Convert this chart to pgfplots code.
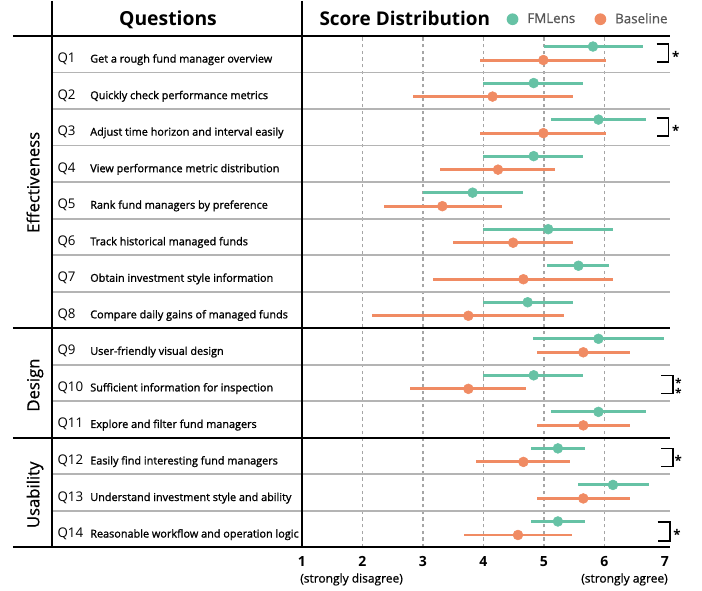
\documentclass[border=0pt]{standalone}
\usepackage{pgfplots}
\pgfplotsset{compat=1.18}
\usepackage{pgfplotstable}
\usepackage{fontspec}
\setmainfont{Open Sans}
\newfontfamily\descfont[BoldFont={Open Sans}, BoldFeatures={FakeBold=1.3}]{Open Sans}
\newfontfamily\medfont[BoldFont={Open Sans}, BoldFeatures={FakeBold=0.7}]{Open Sans}
\definecolor{fmgreen}{RGB}{102,194,165}
\definecolor{fmorange}{RGB}{240,139,99}
\definecolor{rowgray}{RGB}{180,180,180}
\definecolor{gridgray}{RGB}{165,165,165}
\definecolor{leggray}{RGB}{85,85,85}

\pgfplotstableread{
q yg mg lg hg yo mo lo ho
1 13.71 5.81 5.00 6.64 13.34 4.99 3.95 6.02
2 12.71 4.83 3.99 5.65 12.34 4.15 2.83 5.48
3 11.71 5.90 5.11 6.68 11.34 4.99 3.95 6.02
4 10.71 4.83 3.99 5.65 10.34 4.24 3.28 5.19
5 9.71 3.82 3.00 4.66 9.34 3.32 2.35 4.30
6 8.71 5.07 3.99 6.14 8.34 4.49 3.50 5.48
7 7.71 5.57 5.05 6.08 7.34 4.66 3.17 6.14
8 6.71 4.73 3.99 5.48 6.34 3.75 2.15 5.33
9 5.71 5.90 4.82 6.98 5.34 5.65 4.88 6.42
10 4.71 4.83 3.99 5.65 4.34 3.75 2.79 4.70
11 3.71 5.90 5.11 6.68 3.34 5.65 4.88 6.42
12 2.71 5.23 4.79 5.68 2.34 4.66 3.88 5.43
13 1.71 6.14 5.57 6.73 1.34 5.65 4.88 6.42
14 0.71 5.23 4.79 5.68 0.34 4.57 3.68 5.47
}\data

\newcommand{\qlab}[3]{%
  \node[anchor=base west, inner sep=0pt, font=\fontsize{10}{12}\selectfont] at (axis cs:-3.045,#1) {#2};
  \node[anchor=base west, inner sep=0pt, font=\descfont\bfseries\fontsize{8.15}{9.5}\selectfont] at (axis cs:-2.504,#1) {#3};
}

\begin{document}
\begin{tikzpicture}
\begin{axis}[
  scale only axis, width=276pt, height=383.6pt,
  xmin=1, xmax=7.083, ymin=0, ymax=14,
  clip=false,
  axis line style={draw=none},
  ytick=\empty,
  xtick={1,...,7},
  major tick length=0pt,
  /pgf/number format/assume math mode=true,
  xticklabel style={font=\bfseries\fontsize{10.5}{12}\selectfont, inner sep=0pt, anchor=base, yshift=-14.5pt},
  legend style={at={(axis cs:4.379,14.457)}, anchor=west, draw=none, fill=none,
    legend columns=2, font=\medfont\bfseries\fontsize{10}{12}\selectfont, text=leggray,
    inner sep=0pt, /tikz/every even column/.append style={column sep=12.5pt}},
  legend image code/.code={\fill[#1] (4.4pt,0pt) circle (4.4pt); \path (13.5pt,0pt);},
]
% bounding box of the whole picture
\path (axis cs:-3.992,14.958) rectangle (axis cs:7.612,-1.190);
% dashed grid
\pgfplotsinvokeforeach{2,3,4,5,6}{
  \draw[gridgray, line width=0.9pt, dash pattern=on 2.6pt off 2.4pt] (axis cs:#1,0) -- (axis cs:#1,14);
}
% gray row separators
\pgfplotsinvokeforeach{13,12,11,10,9,8,7,5,4,2,1}{
  \draw[rowgray, line width=1.4pt] (axis cs:-3.137,#1) -- (axis cs:7.083,#1);
}

\addlegendimage{fill=fmgreen, draw=none}
\addlegendentry{FMLens}
\addlegendimage{fill=fmorange, draw=none}
\addlegendentry{Baseline}

\addplot[forget plot, only marks, mark=*, mark size=3.7pt, color=fmgreen,
  error bars/.cd, x dir=both, x explicit, error mark=none,
  error bar style={line width=2.2pt, fmgreen}]
  table[x=mg, y=yg, x error plus expr=\thisrow{hg}-\thisrow{mg}, x error minus expr=\thisrow{mg}-\thisrow{lg}] {\data};
\addplot[forget plot, only marks, mark=*, mark size=3.7pt, color=fmorange,
  error bars/.cd, x dir=both, x explicit, error mark=none,
  error bar style={line width=2.2pt, fmorange}]
  table[x=mo, y=yo, x error plus expr=\thisrow{ho}-\thisrow{mo}, x error minus expr=\thisrow{mo}-\thisrow{lo}] {\data};

% black lines
\pgfplotsinvokeforeach{14,6,3,0}{
  \draw[black, line width=1.4pt] (axis cs:-3.777,#1) -- (axis cs:7.083,#1);
}
\draw[black, line width=1.4pt] (axis cs:-3.137,14.958) -- (axis cs:-3.137,0);
\draw[black, line width=1.4pt] (axis cs:1,14.958) -- (axis cs:1,0);

% headers
\node[anchor=base, inner sep=0pt, font=\bfseries\fontsize{14.5}{17}\selectfont] at (axis cs:-1.215,14.274) {Questions};
\node[anchor=base west, inner sep=0pt, font=\bfseries\fontsize{14.2}{17}\selectfont] at (axis cs:1.286,14.274) {Score Distribution};

% group labels
\node[rotate=90, anchor=base, inner sep=0pt, font=\medfont\bfseries\fontsize{12.5}{15}\selectfont] at (axis cs:-3.342,9.99) {Effectiveness};
\node[rotate=90, anchor=base, inner sep=0pt, font=\medfont\bfseries\fontsize{12.5}{15}\selectfont] at (axis cs:-3.342,4.443) {Design};
\node[rotate=90, anchor=base, inner sep=0pt, font=\medfont\bfseries\fontsize{12.5}{15}\selectfont] at (axis cs:-3.342,1.44) {Usability};

% question labels
\qlab{13.27}{Q1}{Get a rough fund manager overview}
\qlab{12.27}{Q2}{Quickly check performance metrics}
\qlab{11.27}{Q3}{Adjust time horizon and interval easily}
\qlab{10.27}{Q4}{View performance metric distribution}
\qlab{9.27}{Q5}{Rank fund managers by preference}
\qlab{8.27}{Q6}{Track historical managed funds}
\qlab{7.27}{Q7}{Obtain investment style information}
\qlab{6.27}{Q8}{Compare daily gains of managed funds}
\qlab{5.27}{Q9}{User-friendly visual design}
\qlab{4.27}{Q10}{Sufficient information for inspection}
\qlab{3.27}{Q11}{Explore and filter fund managers}
\qlab{2.27}{Q12}{Easily find interesting fund managers}
\qlab{1.27}{Q13}{Understand investment style and ability}
\qlab{0.27}{Q14}{Reasonable workflow and operation logic}

% significance brackets
\draw[black, line width=1.2pt] (axis cs:6.86,13.78) -- (axis cs:7.06,13.78) -- (axis cs:7.06,13.29) -- (axis cs:6.86,13.29);
\node[anchor=base, inner sep=0pt, yshift=-6pt, font=\bfseries\fontsize{10}{12}\selectfont] at (axis cs:7.18,13.52) {*};
\draw[black, line width=1.2pt] (axis cs:6.86,11.75) -- (axis cs:7.06,11.75) -- (axis cs:7.06,11.26) -- (axis cs:6.86,11.26);
\node[anchor=base, inner sep=0pt, yshift=-6pt, font=\bfseries\fontsize{10}{12}\selectfont] at (axis cs:7.18,11.49) {*};
\draw[black, line width=1.2pt] (axis cs:6.94,4.71) -- (axis cs:7.13,4.71) -- (axis cs:7.13,4.21) -- (axis cs:6.94,4.21);
\node[anchor=base, inner sep=0pt, yshift=-5.4pt, font=\bfseries\fontsize{9}{11}\selectfont] at (axis cs:7.22,4.57) {*};
\node[anchor=base, inner sep=0pt, yshift=-5.4pt, font=\bfseries\fontsize{9}{11}\selectfont] at (axis cs:7.22,4.29) {*};
\draw[black, line width=1.2pt] (axis cs:6.94,2.71) -- (axis cs:7.13,2.71) -- (axis cs:7.13,2.21) -- (axis cs:6.94,2.21);
\node[anchor=base, inner sep=0pt, yshift=-6pt, font=\bfseries\fontsize{10}{12}\selectfont] at (axis cs:7.22,2.46) {*};
\draw[black, line width=1.2pt] (axis cs:6.88,0.70) -- (axis cs:7.08,0.70) -- (axis cs:7.08,0.18) -- (axis cs:6.88,0.18);
\node[anchor=base, inner sep=0pt, yshift=-6pt, font=\bfseries\fontsize{10}{12}\selectfont] at (axis cs:7.20,0.43) {*};

% scale end labels
\node[anchor=base west, inner sep=0pt, font=\medfont\bfseries\fontsize{9}{11}\selectfont] at (axis cs:0.967,-0.963) {(strongly disagree)};
\node[anchor=base east, inner sep=0pt, font=\medfont\bfseries\fontsize{9}{11}\selectfont] at (axis cs:7.05,-0.963) {(strongly agree)};
\end{axis}
\end{tikzpicture}
\end{document}
